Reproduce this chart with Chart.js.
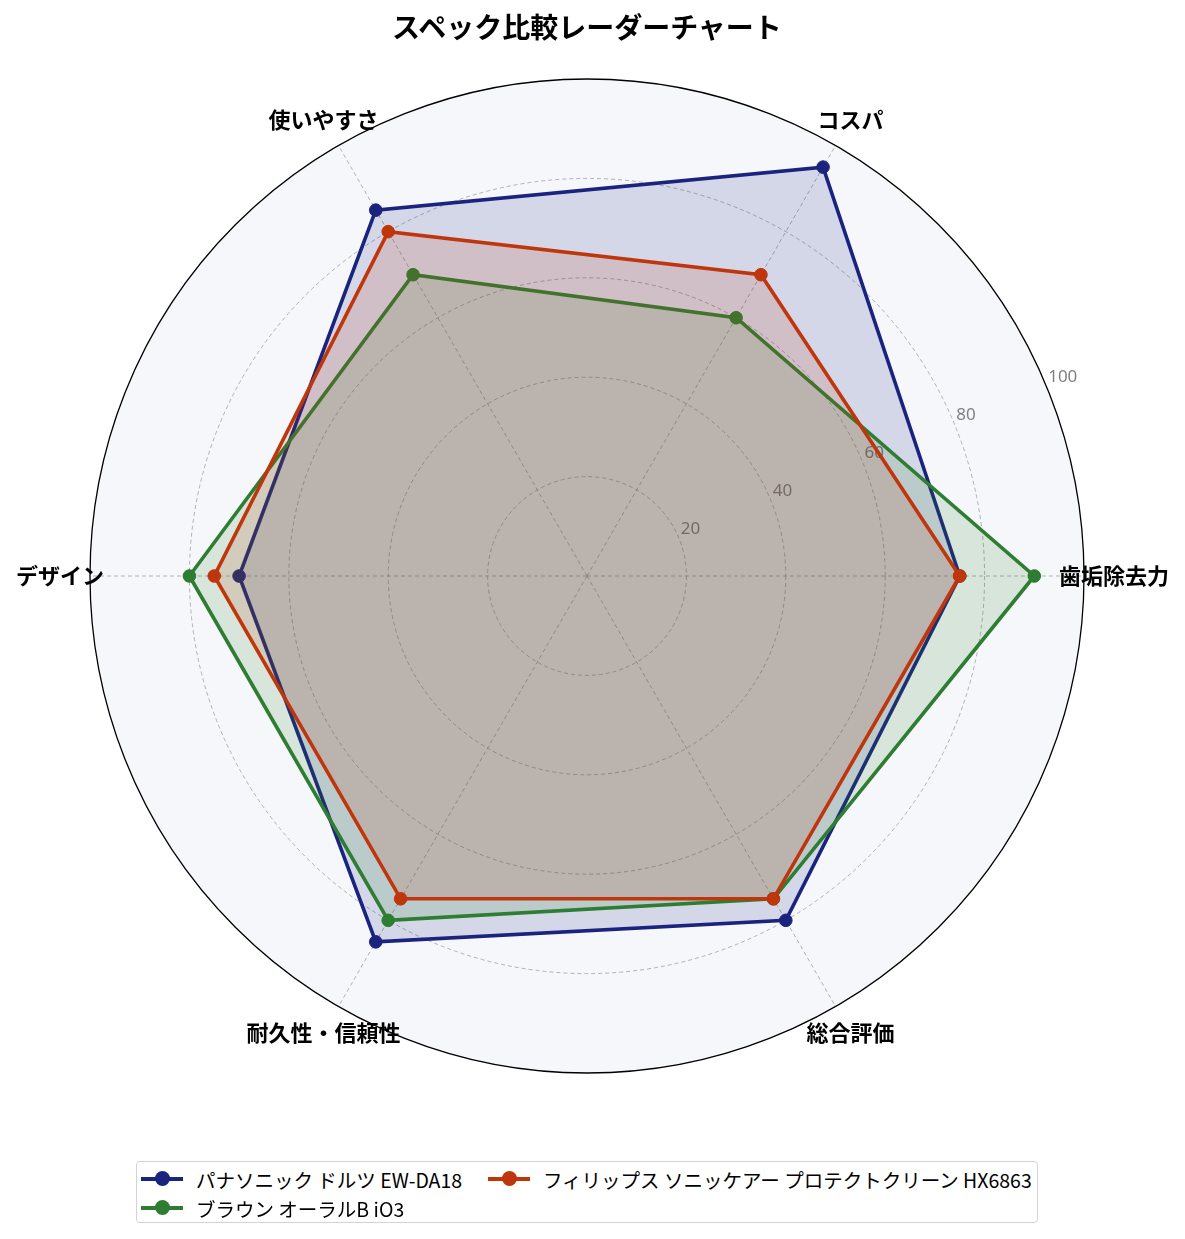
<!DOCTYPE html>
<html>
<head>
<meta charset="utf-8">
<script src="https://cdn.jsdelivr.net/npm/chart.js@4.4.1/dist/chart.umd.min.js"></script>
<style>
html,body{margin:0;padding:0;background:#fff;}
#wrap{position:relative;width:1185px;height:1239px;overflow:hidden;font-family:"Noto Sans CJK JP","Noto Sans",sans-serif;}
#c{position:absolute;left:0;top:0;}
#title{position:absolute;left:0;width:1174px;top:9px;text-align:center;font-weight:700;font-size:28px;line-height:34px;color:#000;}
#legend{position:absolute;left:136px;top:1161px;width:902px;height:62px;border:1.5px solid #d3d3d3;border-radius:4px;box-sizing:border-box;background:#fff;}
.item{position:absolute;height:28px;display:flex;align-items:center;font-size:19.5px;color:#000;white-space:nowrap;}
.mk{position:relative;width:42px;height:3.2px;margin-right:13px;flex:none;}
.mk i{position:absolute;left:13.5px;top:-6px;width:15px;height:15px;border-radius:50%;}
</style>
</head>
<body>
<div id="wrap">
  <canvas id="c" width="1185" height="1239"></canvas>
  <div id="title">スペック比較レーダーチャート</div>
  <div id="legend"></div>
</div>
<script>
// ---- data (matplotlib order, counter-clockwise from the right) ----
const categories = ['歯垢除去力', 'コスパ', '使いやすさ', 'デザイン', '耐久性・信頼性', '総合評価'];
const seriesNames = ['パナソニック ドルツ EW-DA18', 'ブラウン オーラルB iO3', 'フィリップス ソニッケアー プロテクトクリーン HX6863'];
const panasonic = [75, 95, 85, 70, 85, 80];
const braun = [90, 60, 70, 80, 80, 75];
const philips = [75, 70, 80, 75, 75, 75];
const tickValues = [20, 40, 60, 80, 100];

// ---- styles ----
const colors = ['#1a237e', '#2e7d32', '#bf360c'];
const fills = ['rgba(26,35,126,0.15)', 'rgba(46,125,50,0.15)', 'rgba(191,54,12,0.15)'];

// Chart.js runs clockwise; reorder so the sequence is counter-clockwise starting at the right
const cwOrder = [0, 5, 4, 3, 2, 1];
const reorder = arr => cwOrder.map(i => arr[i]);
const seriesValues = [panasonic, braun, philips];

const datasets = seriesValues.map((vals, k) => ({
  label: seriesNames[k],
  data: reorder(vals),
  borderColor: colors[k],
  backgroundColor: fills[k],
  pointBackgroundColor: colors[k],
  pointBorderColor: colors[k],
  pointRadius: 6.3,
  pointBorderWidth: 1,
  borderWidth: 3.6,
  fill: true,
  tension: 0,
  order: 3 - k
}));

const decor = {
  id: 'decor',
  beforeDraw(chart) {
    const s = chart.scales.r, ctx = chart.ctx;
    ctx.save();
    ctx.beginPath();
    ctx.arc(s.xCenter, s.yCenter, s.drawingArea, 0, Math.PI * 2);
    ctx.fillStyle = '#f5f7fa';
    ctx.fill();
    ctx.restore();
  },
  beforeDatasetsDraw(chart) {
    const s = chart.scales.r, ctx = chart.ctx;
    ctx.save();
    ctx.font = '17px "Noto Sans", "Noto Sans CJK JP", sans-serif';
    ctx.fillStyle = '#808080';
    ctx.textAlign = 'left';
    ctx.textBaseline = 'alphabetic';
    const a = 22.5 * Math.PI / 180;
    tickValues.forEach(v => {
      const d = s.getDistanceFromCenterForValue(v);
      ctx.fillText(String(v), s.xCenter + d * Math.cos(a) + 2, s.yCenter - d * Math.sin(a) - 3.5);
    });
    ctx.restore();
  },
  afterDraw(chart) {
    const s = chart.scales.r, ctx = chart.ctx;
    ctx.save();
    ctx.font = 'bold 22px "Noto Sans CJK JP", sans-serif';
    ctx.fillStyle = '#000';
    ctx.textAlign = 'center';
    ctx.textBaseline = 'middle';
    chart.data.labels.forEach((lab, i) => {
      const p = s.getPointPosition(i, s.drawingArea + 30);
      ctx.fillText(lab, p.x, p.y);
    });
    ctx.beginPath();
    ctx.arc(s.xCenter, s.yCenter, s.drawingArea, 0, Math.PI * 2);
    ctx.strokeStyle = '#000';
    ctx.lineWidth = 1.3;
    ctx.stroke();
    ctx.restore();
  }
};

new Chart(document.getElementById('c'), {
  type: 'radar',
  data: { labels: reorder(categories), datasets },
  options: {
    responsive: false,
    animation: false,
    devicePixelRatio: 1,
    layout: { padding: { left: 90, right: 101, top: 79, bottom: 166 } },
    plugins: { legend: { display: false }, tooltip: { enabled: false }, title: { display: false } },
    elements: { line: { tension: 0 } },
    scales: {
      r: {
        min: 0, max: 100, startAngle: 90,
        ticks: { stepSize: 20, display: false },
        pointLabels: { display: false },
        grid: {
          circular: true,
          lineWidth: 0.8,
          color: c => (c.tick && c.tick.value === 100) ? 'rgba(0,0,0,0)' : '#a0a0a0'
        },
        border: { dash: [4, 3] },
        angleLines: { display: true, color: '#a0a0a0', lineWidth: 0.8, borderDash: [4, 3] }
      }
    }
  },
  plugins: [decor]
});

// legend (matplotlib ncol=2 column-major layout)
const legendPos = [
  { left: 4, top: 3 },
  { left: 4, top: 32 },
  { left: 351, top: 3 }
];
const lg = document.getElementById('legend');
seriesNames.forEach((name, k) => {
  const it = document.createElement('div');
  it.className = 'item';
  it.style.left = legendPos[k].left + 'px';
  it.style.top = legendPos[k].top + 'px';
  const mk = document.createElement('span');
  mk.className = 'mk';
  mk.style.background = colors[k];
  const dot = document.createElement('i');
  dot.style.background = colors[k];
  mk.appendChild(dot);
  const tx = document.createElement('span');
  tx.textContent = name;
  it.appendChild(mk);
  it.appendChild(tx);
  lg.appendChild(it);
});
</script>
</body>
</html>
